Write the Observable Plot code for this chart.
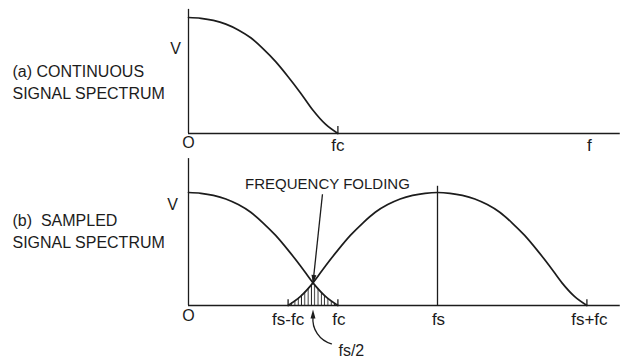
<!DOCTYPE html>
<html>
<head>
<meta charset="utf-8">
<script src="https://cdn.jsdelivr.net/npm/d3@7"></script>
<script src="https://cdn.jsdelivr.net/npm/@observablehq/plot@0.6"></script>
<style>
  body { margin: 0; background: #fff; }
  #chart { position: relative; width: 625px; height: 360px; overflow: hidden; background: #fff; }
  #chart svg { position: absolute; left: 0; overflow: visible; background: none; }
  #chart svg text { font-family: "Liberation Sans", Arial, sans-serif; }
</style>
</head>
<body>
<div id="chart"></div>
<script>
// Baseband spectrum of the continuous signal: frequency (cut-off fc = 3) and relative amplitude (V = 1)
const freq = [0, 0.25, 0.5, 0.75, 1, 1.25, 1.5, 1.75, 2, 2.25, 2.5, 2.75, 3];
const amp  = [1, 0.993, 0.975, 0.943, 0.893, 0.825, 0.73, 0.62, 0.49, 0.35, 0.2, 0.08, 0];
const fc = 3;   // highest signal frequency
const fs = 5;   // sampling frequency

// Axis annotations
const axisLabelsA = [{f: fc, text: "fc"}, {f: 8.05, text: "f"}];
const axisLabelsB = [
  {f: fs - fc, text: "fs-fc"},
  {f: fc + 0.02, text: "fc"},
  {f: fs + 0.02, text: "fs"},
  {f: fs + fc + 0.05, text: "fs+fc"}
];
const panelTitlesA = ["(a) CONTINUOUS", "SIGNAL SPECTRUM"];
const panelTitlesB = ["(b)  SAMPLED", "SIGNAL SPECTRUM"];
const foldLabel = "FREQUENCY FOLDING";
const halfLabel = "fs/2";

const ink = "#1c1c1c";
const xEnd = 8.67;

// Spectrum points
const baseband = freq.map((f, i) => ({f, v: amp[i]}));
// Image lobe centred on fs: mirrored copy of the baseband spectrum
const imageLobe = [
  ...freq.map((f, i) => ({f: fs - f, v: amp[i]})).reverse(),
  ...freq.slice(1).map((f, i) => ({f: fs + f, v: amp[i + 1]}))
];
// Overlap (aliased) region between fs-fc and fc, split at fs/2
const foldLeft = imageLobe.filter(d => d.f >= fs - fc && d.f <= fs / 2);
const foldRight = baseband.filter(d => d.f >= fs / 2);

const common = {
  width: 625,
  marginLeft: 188,
  marginRight: 625 - 188 - 8 * 49.8,
  x: {domain: [0, 8], axis: null},
  y: {domain: [0, 1], axis: null}
};
const txt = {fill: ink, fontSize: 16, stroke: null};

// Narrow filled arrowhead, tip at the origin, pointing up
const arrowHead = {
  draw(context, size) {
    const r = Math.sqrt(size / Math.PI);
    context.moveTo(0, 0);
    context.lineTo(-r * 0.55, r * 2);
    context.lineTo(r * 0.55, r * 2);
    context.closePath();
  }
};

// (a) continuous signal spectrum
const plotA = Plot.plot({
  ...common,
  height: 172,
  marginTop: 17,
  marginBottom: 39,
  marks: [
    Plot.ruleY([0], {x1: 0, x2: xEnd, stroke: ink, strokeWidth: 1.3}),
    Plot.ruleX([0], {y1: 0, y2: 1.07, stroke: ink, strokeWidth: 1.3}),
    Plot.ruleX([fc], {y1: 0, y2: 0.06, stroke: ink, strokeWidth: 1.3}),
    Plot.line(baseband, {x: "f", y: "v", curve: "monotone-x", stroke: ink, strokeWidth: 1.7}),
    Plot.text(axisLabelsA, {x: "f", y: () => -0.1, text: "text", ...txt, fontSize: 17}),
    Plot.text(["V"], {x: () => -0.26, y: () => 0.73, text: d => d, ...txt}),
    Plot.text(["O"], {x: () => 0, y: () => -0.08, text: d => d, ...txt}),
    Plot.text(panelTitlesA, {x: () => (12 - 188) / 49.8, y: (d, i) => [0.534, 0.345][i], text: d => d, textAnchor: "start", ...txt})
  ]
});
plotA.style.top = "0px";

// (b) sampled signal spectrum
const plotB = Plot.plot({
  ...common,
  height: 188,
  marginTop: 20,
  marginBottom: 55,
  marks: [
    Plot.areaY(foldLeft, {x: "f", y: "v", curve: "monotone-x", fill: "url(#fold-hatch)"}),
    Plot.areaY(foldRight, {x: "f", y: "v", curve: "monotone-x", fill: "url(#fold-hatch)"}),
    Plot.ruleY([0], {x1: 0, x2: xEnd, stroke: ink, strokeWidth: 1.3}),
    Plot.ruleX([0], {y1: 0, y2: 1.30, stroke: ink, strokeWidth: 1.3}),
    Plot.ruleX([fs], {y1: 0, y2: 1.055, stroke: ink, strokeWidth: 1.3}),
    Plot.ruleX([fs - fc, fc, fs + fc], {y1: 0, y2: 0.05, stroke: ink, strokeWidth: 1.3}),
    Plot.line(baseband, {x: "f", y: "v", curve: "monotone-x", stroke: ink, strokeWidth: 1.7}),
    Plot.line(imageLobe, {x: "f", y: "v", curve: "monotone-x", stroke: ink, strokeWidth: 1.7}),
    // "frequency folding" pointer to the crossing at fs/2
    Plot.link([0], {x1: () => 2.69, y1: () => 0.985, x2: () => fs / 2, y2: () => 0.2, stroke: ink, strokeWidth: 1.3}),
    Plot.dot([0], {x: () => fs / 2, y: () => 0.19, symbol: arrowHead, r: 4.5, rotate: 186, fill: ink, stroke: null}),
    // curved pointer from the fs/2 label
    Plot.arrow([0], {x1: () => 2.87, y1: () => -0.34, x2: () => fs / 2, y2: () => -0.1, bend: 40, headLength: 0, stroke: ink, strokeWidth: 1.3}),
    Plot.dot([0], {x: () => fs / 2, y: () => -0.035, symbol: arrowHead, r: 4.5, rotate: 0, fill: ink, stroke: null}),
    Plot.text(axisLabelsB, {x: "f", y: () => -0.125, text: "text", ...txt, fontSize: 17}),
    Plot.text([halfLabel], {x: () => 3.27, y: () => -0.4, text: d => d, ...txt, fontSize: 16}),
    Plot.text([foldLabel], {x: () => 2.79, y: () => 1.07, text: d => d, ...txt, fontSize: 15}),
    Plot.text(["V"], {x: () => -0.32, y: () => 0.89, text: d => d, ...txt}),
    Plot.text(["O"], {x: () => 0, y: () => -0.09, text: d => d, ...txt}),
    Plot.text(panelTitlesB, {x: () => (12 - 188) / 49.8, y: (d, i) => [0.752, 0.558][i], text: d => d, textAnchor: "start", ...txt})
  ]
});
plotB.style.top = "172px";

// Vertical hatching used for the aliased overlap
const defs = d3.select(plotB).insert("defs", ":first-child");
const pat = defs.append("pattern")
  .attr("id", "fold-hatch")
  .attr("patternUnits", "userSpaceOnUse")
  .attr("width", 3.3)
  .attr("height", 20);
pat.append("line")
  .attr("x1", 1.2).attr("x2", 1.2)
  .attr("y1", 0).attr("y2", 20)
  .attr("stroke", ink)
  .attr("stroke-width", 0.9);

const chart = document.getElementById("chart");
chart.append(plotA, plotB);
</script>
</body>
</html>
